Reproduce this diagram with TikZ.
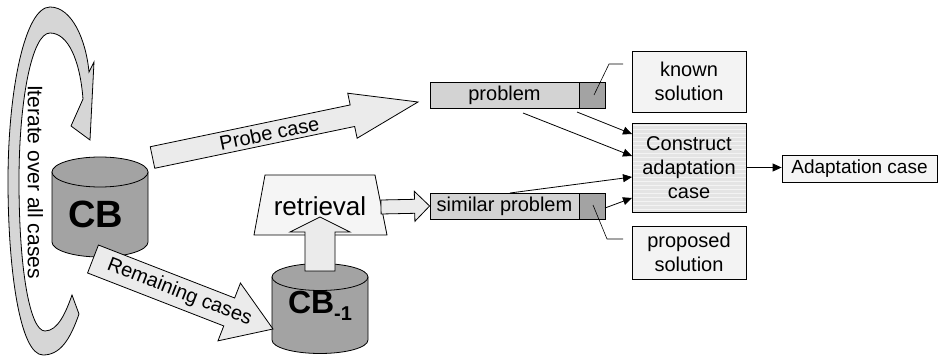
\documentclass[tikz,border=0pt]{standalone}
\usepackage{fontspec}
\setmainfont{Liberation Sans}
\usetikzlibrary{calc,arrows.meta}

\definecolor{ringgray}{HTML}{D6D6D6}
\definecolor{dbgray}{HTML}{A3A3A3}
\definecolor{bargray}{HTML}{D3D3D3}
\definecolor{solgray}{HTML}{A3A3A3}
\definecolor{boxgray}{HTML}{F3F3F3}
\definecolor{arrowgray}{HTML}{EBEBEB}
\definecolor{paleback}{HTML}{F5F5F5}
\definecolor{stripegray}{HTML}{E4E4E4}

% block arrow: #1 style, #2 tail, #3 tip, #4 half shaft width, #5 half head width, #6 head length
\newcommand{\blockarrow}[6]{%
  \coordinate (ba-base) at ($(#3)!#6!(#2)$);
  \draw[#1] ($(#2)!#4!90:(#3)$) -- ($(ba-base)!#4!90:(#3)$) -- ($(ba-base)!#5!90:(#3)$)
    -- (#3) -- ($(ba-base)!#5!-90:(#3)$) -- ($(ba-base)!#4!-90:(#3)$)
    -- ($(#2)!#4!-90:(#3)$) -- cycle;}

% cylinder: #1 centre x, #2 top y, #3 bottom y, #4 x radius, #5 y radius
\newcommand{\dbcylinder}[5]{%
  \draw[outline, fill=dbgray] ({#1-#4},#2) -- ({#1-#4},#3)
    arc[start angle=180, end angle=360, x radius=#4pt, y radius=#5pt] -- ({#1+#4},#2) -- cycle;
  \draw[outline, fill=dbgray] (#1,#2) ellipse[x radius=#4pt, y radius=#5pt];}

\tikzset{
  outline/.style={draw=black, line width=0.8pt},
  arrowbody/.style={outline, fill=arrowgray},
  txt/.style={font=\fontsize{20}{24}\selectfont},
  infobox/.style={outline, fill=boxgray, align=center, inner sep=0pt, txt},
  barbox/.style={outline, inner sep=0pt, minimum height=26pt, txt},
  link/.style={draw=black, line width=0.8pt, -{Triangle[length=9pt,width=8pt]}},
  callout/.style={draw=black, line width=0.6pt},
}

\begin{document}
\begin{tikzpicture}[x=1pt, y=-1pt]
\useasboundingbox (0,0) rectangle (940,358);

% iteration loop around the case base
\draw[outline, fill=ringgray]
  (79,314) .. controls (70,340) and (60,355) .. (43,355)
  .. controls (20,355) and (8,270) .. (8,181)
  .. controls (8,90) and (25,7) .. (50,7)
  .. controls (72,7) and (86,40) .. (89,72)
  -- (94,62) -- (90,140) -- (71,126) -- (83,99)
  .. controls (80,60) and (68,33) .. (50,33)
  .. controls (32,33) and (19,100) .. (19,181)
  .. controls (19,270) and (30,331) .. (45,331)
  .. controls (58,331) and (66,312) .. (72,295) -- cycle;
\node[rotate=-90, inner sep=0pt, font=\fontsize{21}{24}\selectfont] (iter) at (35.5,182) {Iterate over all cases};

% case base
\dbcylinder{100}{172}{242}{48}{15}
\node[font=\fontsize{38}{42}\selectfont\bfseries, inner sep=0pt] (cb) at (96,214) {CB};

% reduced case base
\dbcylinder{320}{277}{340}{48}{13.5}
\node[inner sep=0pt, anchor=base] (cbm) at (320,313.5)
  {\fontsize{32}{36}\selectfont\bfseries CB\raisebox{-7pt}{\fontsize{20}{20}\selectfont\bfseries -1}};

% retrieval step
\draw[outline, fill=paleback] (265,175) -- (375,175) -- (387,235) -- (254,235) -- cycle;
\node[font=\fontsize{26}{30}\selectfont, inner sep=0pt] (retr) at (320,206) {retrieval};

% problem bars
\node[barbox, fill=bargray, minimum width=149pt] (prob) at (504.5,95) {problem};
\node[barbox, fill=solgray, minimum width=26pt] (probsol) at (592,95) {};
\node[barbox, fill=bargray, minimum width=149pt] (sim) at (504.5,206) {similar problem};
\node[barbox, fill=solgray, minimum width=26pt] (simsol) at (592,206) {};

% solution notes
\node[infobox, minimum width=114pt, minimum height=61pt] (known) at (689,81.5) {known\\solution};
\node[infobox, minimum width=114pt, minimum height=53pt] (proposed) at (689,252.5) {proposed\\solution};

% adaptation case construction
\fill[stripegray] (632,123) rectangle (746,212);
\foreach \yy in {125,129,...,211} \draw[white!55!stripegray, line width=0.6pt] (632.5,\yy) -- (745.5,\yy);
\node[outline, align=center, txt, minimum width=114pt, minimum height=89pt, inner sep=0pt] (construct) at (689,167.5) {Construct\\adaptation\\case};
\node[outline, fill=paleback, font=\fontsize{19}{22}\selectfont, minimum width=155pt, minimum height=27pt, inner sep=0pt] (adapt) at (859.5,168.5) {Adaptation case};

% block arrows
\coordinate (probeTail) at (152.5,157.5);
\coordinate (probeTip) at (418,102);
\blockarrow{arrowbody}{probeTail}{probeTip}{11pt}{23pt}{67pt}
\node[txt, rotate=11.7, inner sep=0pt] (probelbl) at ($(probeTail)!0.44!(probeTip)$) {Probe case};

\coordinate (restTail) at (93,259);
\coordinate (restTip) at (273,329);
\blockarrow{arrowbody}{restTail}{restTip}{15pt}{31pt}{47pt}
\node[txt, rotate=-21.3, inner sep=0pt] (restlbl) at ($(restTail)!0.48!(restTip)$) {Remaining cases};

\coordinate (upTail) at (320,271);
\coordinate (upTip) at (320,217);
\blockarrow{outline, fill=arrowgray}{upTail}{upTip}{15pt}{30pt}{15pt}

\coordinate (outTail) at (381,207);
\coordinate (outTip) at (sim.west);
\blockarrow{arrowbody}{outTail}{outTip}{7pt}{15pt}{15pt}

% links into the construction step
\coordinate (a1s) at (577,112);
\coordinate (a2s) at (523,113);
\coordinate (a3s) at (510,193);
\coordinate (a4s) at (605,208);
\coordinate (a1e) at (632,134);
\coordinate (a2e) at (632,156);
\coordinate (a3e) at (632,177);
\coordinate (a4e) at (632,198);
\draw[link] (a1s) -- (a1e);
\draw[link] (a2s) -- (a2e);
\draw[link] (a3s) -- (a3e);
\draw[link] (a4s) -- (a4e);
\draw[link] (construct.east) -- (construct.east -| adapt.west);

% callouts
\coordinate (k1) at (623,64);
\coordinate (k2) at (609,64);
\coordinate (k3) at (594,95);
\draw[callout] (k1) -- (k2) -- (k3);
\coordinate (p1) at (623,239);
\coordinate (p2) at (607,239);
\coordinate (p3) at (593,205);
\draw[callout] (p1) -- (p2) -- (p3);
\end{tikzpicture}
\end{document}
